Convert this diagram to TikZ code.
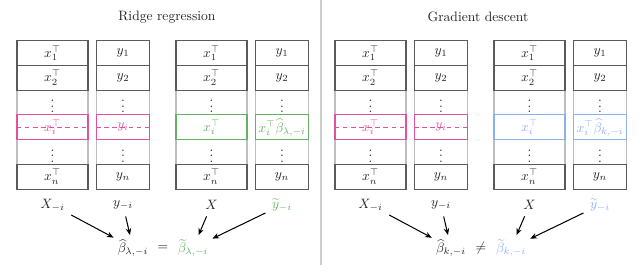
\documentclass[tikz,border=0pt]{standalone}
\usetikzlibrary{arrows.meta}
\definecolor{pk}{RGB}{228,80,160}
\definecolor{gr}{RGB}{100,176,100}
\definecolor{bl}{RGB}{140,175,240}
\definecolor{dkgray}{RGB}{90,90,90}
\definecolor{ltgray}{RGB}{190,190,190}
\definecolor{divgray}{RGB}{205,205,205}
\definecolor{ink}{RGB}{35,35,35}
\begin{document}
\begin{tikzpicture}[x=0.736pt,y=-0.736pt,
  cell/.style={minimum height=24.75*0.736pt, inner sep=0pt, line width=0.8pt, text=ink},
  wide/.style={minimum width=71*0.736pt},
  narrow/.style={minimum width=53*0.736pt},
  dk/.style={draw=dkgray},
  lt/.style={draw=ltgray},
  lbl/.style={text=ink, inner sep=2pt},
  arr/.style={-{Stealth[length=5pt,width=4pt]}, line width=0.75pt, black, shorten >=1pt, shorten <=3pt},
  dash line/.style={draw=pk, dash pattern=on 3.5pt off 2.5pt, line width=0.8pt}]
\useasboundingbox (0,0) rectangle (640,275);
\draw[divgray, line width=1.2pt] (321,0) -- (321,265);
\node[text=ink] (titleL) at (167,17) {Ridge regression};
\node[text=ink] (titleR) at (478,17) {Gradient descent};
\foreach \p/\ox/\cc/\sub/\rel in {L/0/gr/\lambda/=, R/318/bl/k/\neq} {
  % light rows
  \foreach \r/\yy in {3/102.5,5/152} {
    \node[cell,lt,wide]   (\p a\r) at ({52.5+\ox},\yy)  {$\vdots$};
    \node[cell,lt,narrow] (\p b\r) at ({123+\ox},\yy)   {$\vdots$};
    \node[cell,lt,wide]   (\p c\r) at ({211.5+\ox},\yy) {$\vdots$};
    \node[cell,lt,narrow] (\p d\r) at ({282+\ox},\yy)   {$\vdots$};
  }
  % dark rows
  \foreach \r/\yy/\s in {1/53.1/1,2/77.8/2,6/176.7/n} {
    \node[cell,dk,wide]   (\p a\r) at ({52.5+\ox},\yy)  {$x_\s^\top$};
    \node[cell,dk,narrow] (\p b\r) at ({123+\ox},\yy)   {$y_\s$};
    \node[cell,dk,wide]   (\p c\r) at ({211.5+\ox},\yy) {$x_\s^\top$};
    \node[cell,dk,narrow] (\p d\r) at ({282+\ox},\yy)   {$y_\s$};
  }
  % highlighted row i
  \node[cell,draw=pk,wide,text=pk]     (\p a4) at ({52.5+\ox},127.3)  {$x_i^\top$};
  \node[cell,draw=pk,narrow,text=pk]   (\p b4) at ({123+\ox},127.3)   {$y_i$};
  \node[cell,draw=\cc,wide,text=\cc]   (\p c4) at ({211.5+\ox},127.3) {$x_i^\top$};
  \node[cell,draw=\cc,narrow,text=\cc] (\p d4) at ({282+\ox},127.3)   {$x_i^\top\widehat{\beta}_{\sub,-i}$};
  \draw[dash line] (\p a4.west) -- (\p a4.east);
  \draw[dash line] (\p b4.west) -- (\p b4.east);
  % labels
  \node[lbl] (\p X)  at ({52.5+\ox},205)  {$X_{-i}$};
  \node[lbl] (\p y)  at ({123+\ox},205)   {$y_{-i}$};
  \node[lbl] (\p XX) at ({211.5+\ox},205) {$X$};
  \node[lbl,text=\cc] (\p yt) at ({282+\ox},205) {$\widetilde{y}_{-i}$};
  % estimators
  \node[lbl] (\p bh) at ({133+\ox},248) {$\widehat{\beta}_{\sub,-i}$};
  \node[lbl] (\p eq) at ({163+\ox},248) {$\rel$};
  \node[lbl,text=\cc] (\p bt) at ({193+\ox},248) {$\widetilde{\beta}_{\sub,-i}$};
  \draw[arr] (\p X) -- (\p bh);
  \draw[arr] (\p y) -- (\p bh);
  \draw[arr] (\p XX) -- (\p bt);
  \draw[arr] (\p yt) -- (\p bt);
}
\end{tikzpicture}
\end{document}
